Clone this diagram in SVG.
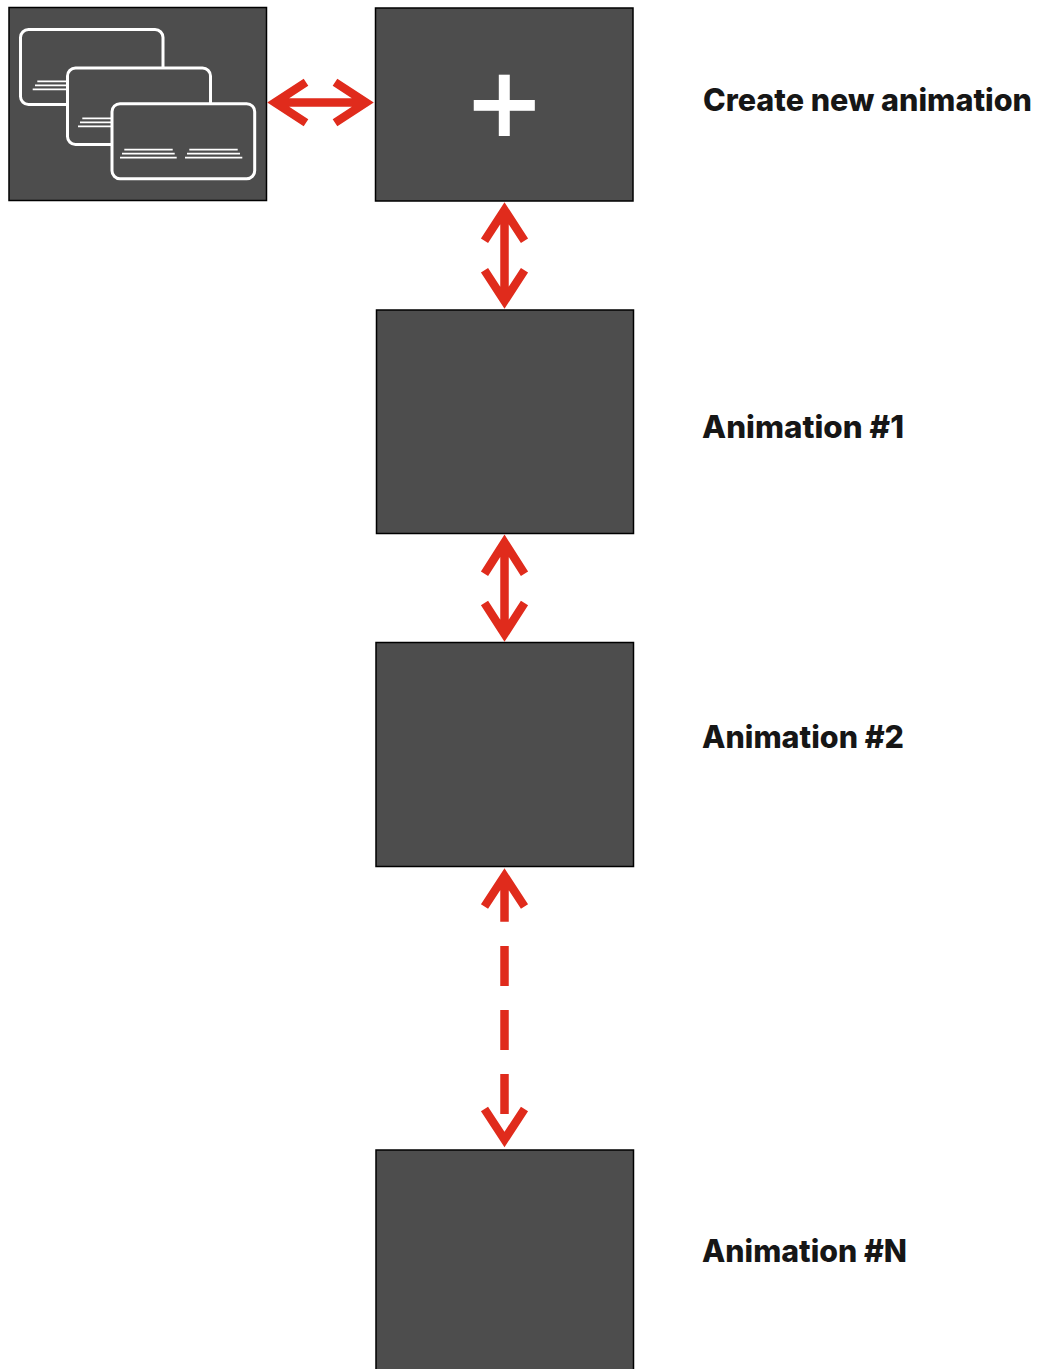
<svg xmlns="http://www.w3.org/2000/svg" width="1039" height="1369" viewBox="0 0 1039 1369">
<style>
.box{fill:#4d4d4d;stroke:#000;stroke-width:1.5}
.card{fill:#4d4d4d;stroke:#fff;stroke-width:3}
.tl{stroke:#fff;stroke-width:1.8;fill:none}
.arw{stroke:#e02b1c;stroke-width:8.5;fill:none;stroke-miterlimit:10}
.lbl{font-family:"Inter","Noto Sans","Liberation Sans",sans-serif;font-weight:800;font-size:31px;fill:#161616}
.plus{font-family:"Liberation Sans",sans-serif;font-size:121px;fill:#fff;stroke:#fff;stroke-width:2.2;text-anchor:middle}
</style>
<rect width="1039" height="1369" fill="#fff"/>
<g id="node-deck">
<rect class="box" x="9" y="7.5" width="257.5" height="193"/>
<rect class="card" x="20.5" y="29.5" width="142.5" height="75" rx="8"/>
<path class="tl" d="M37.3 81.3H70M35 85.3H70M32.7 89.3H70"/>
<rect class="card" x="67.5" y="68" width="143" height="76.5" rx="8"/>
<path class="tl" d="M82.3 118.3H115M80 122.3H115M78 126.3H115"/>
<rect class="card" x="112" y="103.7" width="142.7" height="75" rx="8"/>
<path class="tl" d="M124.3 149.7H172.7M122 153.7H174.7M120 157.7H176.7M189.3 149.7H237.7M187 153.7H240M185 157.7H242.3"/>
</g>
<g id="node-create">
<rect class="box" x="375.5" y="8" width="257.500" height="193"/>
<text class="plus" x="504.300" y="145.500">+</text>
<text class="lbl" x="703" y="111" textLength="329" lengthAdjust="spacingAndGlyphs">Create new animation</text>
</g>
<g id="node-anim1">
<rect class="box" x="376.500" y="310" width="257" height="223.500"/>
<text class="lbl" x="702" y="438" textLength="202" lengthAdjust="spacingAndGlyphs">Animation #1</text>
</g>
<g id="node-anim2">
<rect class="box" x="376" y="642.500" width="257.500" height="224"/>
<text class="lbl" x="702" y="748" textLength="202" lengthAdjust="spacingAndGlyphs">Animation #2</text>
</g>
<g id="node-animN">
<rect class="box" x="376" y="1150" width="257.500" height="240"/>
<text class="lbl" x="702" y="1262" textLength="205" lengthAdjust="spacingAndGlyphs">Animation #N</text>
</g>
<g id="connectors">
<path class="arw" d="M275 102.500H366M306 82.300L275 102.500L306 122.700M335 82.300L366 102.500L335 122.700"/>
<path class="arw" d="M504.500 210V301M484.500 240.800L504.500 210L524.500 240.800M484.500 270.200L504.500 301L524.500 270.200"/>
<path class="arw" d="M504.500 542.500V634M484.500 573.800L504.500 542.500L524.500 573.800M484.500 603L504.500 634L524.500 603"/>
<path class="arw" d="M504.500 876V921.700M504.500 946V986M504.500 1010V1050M504.500 1074V1114M484.500 906.500L504.500 876L524.500 906.500M484.500 1109L504.500 1139.500L524.500 1109"/>
</g>
</svg>
